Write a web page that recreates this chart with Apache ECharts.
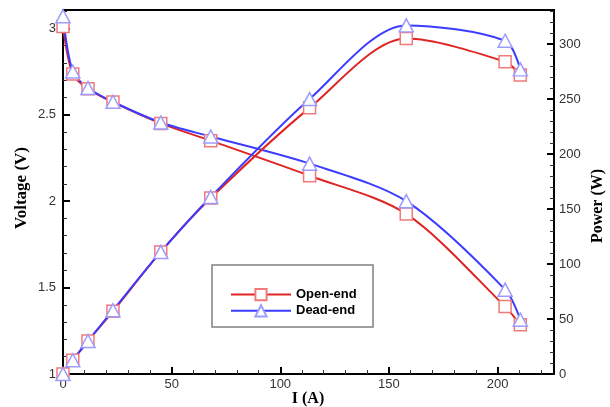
<!DOCTYPE html>
<html>
<head>
<meta charset="utf-8">
<script src="https://cdn.jsdelivr.net/npm/echarts@6/dist/echarts.min.js"></script>
<style>
  html, body { margin: 0; padding: 0; background: #fff; }
  #chart { width: 610px; height: 407px; }
</style>
</head>
<body>
<div id="chart"></div>
<script>
// Current (A) at each measurement point
const current = [0, 4.5, 11.5, 23, 45, 68, 113.5, 158, 203.5, 210.5];
// Stack voltage (V)
const voltageOpen = [3.01, 2.735, 2.65, 2.573, 2.45, 2.35, 2.147, 1.926, 1.39, 1.285];
const voltageDead = [3.07, 2.75, 2.655, 2.575, 2.455, 2.374, 2.217, 2.0, 1.488, 1.314];
// Stack power (W)
const powerOpen = [0, 12.5, 30, 57, 111, 160, 242, 305, 284, 272];
const powerDead = [0, 12.5, 30, 58, 111, 161, 250, 317, 303, 277];

const seriesNames = ['Open-end', 'Dead-end'];
const xTicks = { min: 0, max: 226, interval: 50 };
const vTicks = { min: 1, max: 3.106, interval: 0.5 };
const pTicks = { min: 0, max: 331, interval: 50 };

const RED = '#e02424';
const RED_MARK = '#f07a7a';
const BLUE = '#3c3cff';
const BLUE_MARK = '#9c9cff';

const pairs = (xs, ys) => xs.map((x, i) => [x, ys[i]]);

const tickFont = { color: '#333', fontFamily: 'Liberation Sans, Arial, sans-serif', fontSize: 13 };

function axisCommon(extra) {
  return Object.assign({
    type: 'value',
    axisLine: { show: true, onZero: false, lineStyle: { color: '#000', width: 2 } },
    axisTick: { show: true, inside: true, length: 7, lineStyle: { color: '#000', width: 2 } },
    minorTick: { show: true, splitNumber: 5, length: 4, lineStyle: { color: '#333', width: 1 } },
    splitLine: { show: false },
    minorSplitLine: { show: false }
  }, extra);
}

function makeSeries(name, data, yIndex, symbol, size, lineColor, markColor) {
  return {
    name: name,
    type: 'line',
    yAxisIndex: yIndex,
    data: data,
    smooth: 0.3,
    symbol: symbol,
    symbolSize: size,
    showAllSymbol: true,
    clip: false,
    lineStyle: { color: lineColor, width: 2 },
    itemStyle: { color: '#fff', borderColor: markColor, borderWidth: 1.5 },
    emphasis: { disabled: true },
    animation: false
  };
}

const chart = echarts.init(document.getElementById('chart'), null, { renderer: 'canvas' });

chart.setOption({
  animation: false,
  grid: { left: 63, right: 56, top: 10, bottom: 33 },
  xAxis: [
    axisCommon({
      position: 'bottom',
      min: xTicks.min, max: xTicks.max, interval: xTicks.interval,
      axisLabel: Object.assign({ showMaxLabel: false, margin: 4 }, tickFont)
    }),
    // plain frame line along the top edge
    {
      type: 'value', position: 'top',
      min: xTicks.min, max: xTicks.max,
      axisLine: { show: true, onZero: false, lineStyle: { color: '#000', width: 2 } },
      axisTick: { show: false }, axisLabel: { show: false }, splitLine: { show: false }
    }
  ],
  yAxis: [
    axisCommon({
      position: 'left',
      min: vTicks.min, max: vTicks.max, interval: vTicks.interval,
      axisLabel: Object.assign({ showMaxLabel: false, margin: 7 }, tickFont)
    }),
    axisCommon({
      position: 'right',
      min: pTicks.min, max: pTicks.max, interval: pTicks.interval,
      axisLabel: Object.assign({ showMaxLabel: false, margin: 5 }, tickFont)
    })
  ],
  legend: {
    data: seriesNames,
    orient: 'vertical',
    left: 225, top: 283,
    z: 30,
    itemWidth: 60, itemHeight: 14, itemGap: 3,
    textStyle: { fontFamily: 'Liberation Sans, Arial, sans-serif', fontWeight: 'bold', fontSize: 13, color: '#000' },
    selectedMode: false
  },
  graphic: [
    {
      type: 'rect', z: 25,
      shape: { x: 212, y: 265, width: 161, height: 62 },
      style: { fill: '#fff', stroke: '#808080', lineWidth: 1.5 }
    },
    {
      type: 'text', x: 22, y: 188, rotation: Math.PI / 2, z: 60,
      style: { text: 'Voltage (V)', font: 'bold 17px "Liberation Serif", "Times New Roman", serif', fill: '#000', align: 'center', verticalAlign: 'middle' }
    },
    {
      type: 'text', x: 598, y: 206, rotation: Math.PI / 2, z: 60,
      style: { text: 'Power (W)', font: 'bold 16px "Liberation Serif", "Times New Roman", serif', fill: '#000', align: 'center', verticalAlign: 'middle' }
    },
    {
      type: 'text', x: 308, y: 399, z: 60,
      style: { text: 'I (A)', font: 'bold 16px "Liberation Serif", "Times New Roman", serif', fill: '#000', align: 'center', verticalAlign: 'middle' }
    }
  ],
  series: [
    makeSeries(seriesNames[0], pairs(current, voltageOpen), 0, 'rect', [12, 12], RED, RED_MARK),
    makeSeries(seriesNames[1], pairs(current, voltageDead), 0, 'triangle', [14, 13], BLUE, BLUE_MARK),
    makeSeries(seriesNames[0], pairs(current, powerOpen), 1, 'rect', [12, 12], RED, RED_MARK),
    makeSeries(seriesNames[1], pairs(current, powerDead), 1, 'triangle', [14, 13], BLUE, BLUE_MARK)
  ]
});
</script>
</body>
</html>
